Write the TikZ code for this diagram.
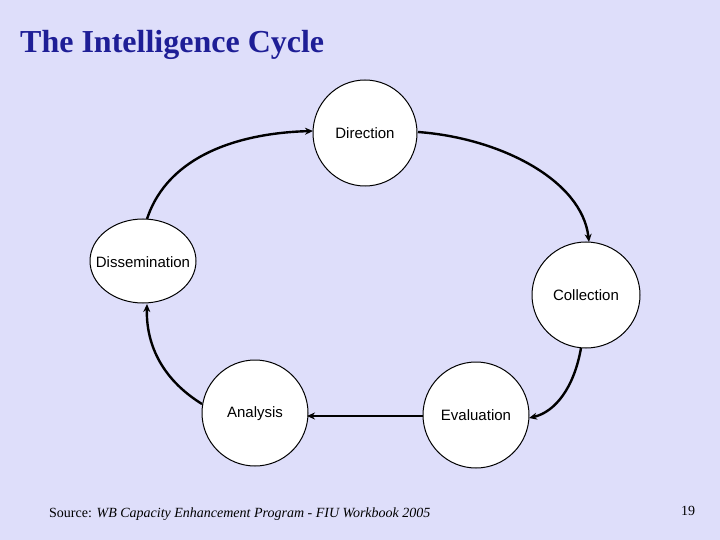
\documentclass[tikz,border=0pt]{standalone}
\usepackage{fontspec}
\setmainfont{Liberation Serif}
\newfontfamily\arialf{Liberation Sans}
\usetikzlibrary{arrows.meta}
\definecolor{bgc}{RGB}{222,222,250}
\definecolor{titlec}{RGB}{30,30,150}
\begin{document}
\begin{tikzpicture}[x=1pt,y=-1pt,
  stage/.style={draw=black,fill=white,line width=1pt},
  lbl/.style={font=\arialf\fontsize{15}{17}\selectfont},
  flow/.style={line width=2.4pt,-{Stealth[length=8pt,width=7pt]}}]
\fill[bgc] (0,0) rectangle (720,540);
\useasboundingbox (0,0) rectangle (720,540);
\node[anchor=west,inner sep=0pt,text=titlec,font=\bfseries\fontsize{32}{36}\selectfont] (title) at (20,45) {The Intelligence Cycle};
\path[stage] (365,133) ellipse [x radius=52,y radius=53];
\path[stage] (143,261) ellipse [x radius=53,y radius=42];
\path[stage] (586,295) ellipse [x radius=54,y radius=53];
\path[stage] (476,415) ellipse [x radius=53,y radius=53];
\path[stage] (255,413) ellipse [x radius=53,y radius=53];
\node[lbl] (dir) at (365,133) {Direction};
\node[lbl] (dis) at (143,262) {Dissemination};
\node[lbl] (col) at (586,295) {Collection};
\node[lbl] (eva) at (476,415) {Evaluation};
\node[lbl] (ana) at (255,414) {Analysis};
\coordinate (a1) at (147,219); \coordinate (b1) at (313,131);
\coordinate (a2) at (418,132); \coordinate (b2) at (589,242);
\coordinate (a3) at (581,348); \coordinate (b3) at (529,418);
\coordinate (a4) at (423,416); \coordinate (b4) at (307,416);
\coordinate (a5) at (202,404); \coordinate (b5) at (147,304);
\draw[flow] (a1) .. controls (168,155) and (240,133) .. (b1);
\draw[flow] (a2) .. controls (500,138) and (582,180) .. (b2);
\draw[flow] (a3) .. controls (574,388) and (555,412) .. (b3);
\draw[flow] (a4) -- (b4);
\draw[flow] (a5) .. controls (160,378) and (146,342) .. (b5);
\node[anchor=west,inner sep=0pt,font=\fontsize{14}{16}\selectfont] (src) at (49,514) {Source: \textit{WB Capacity Enhancement Program - FIU Workbook 2005}};
\node[font=\fontsize{14}{16}\selectfont] (pg) at (688,511) {19};
\end{tikzpicture}
\end{document}
